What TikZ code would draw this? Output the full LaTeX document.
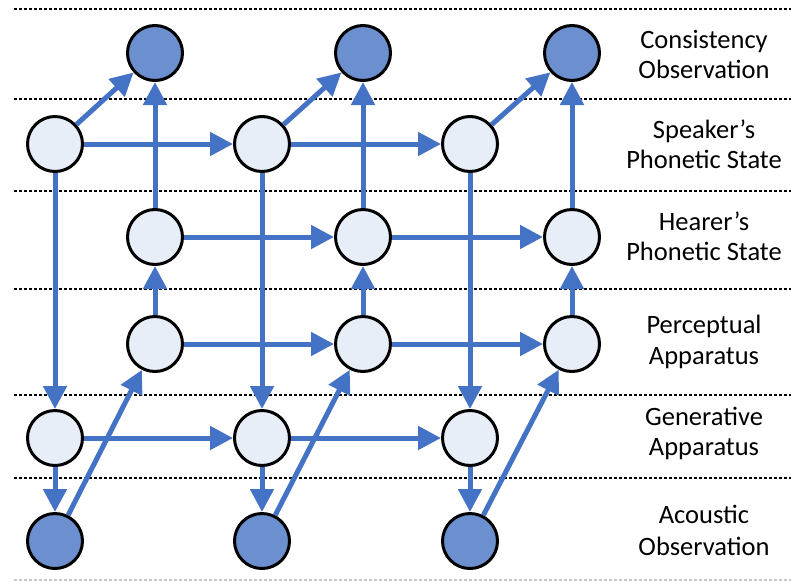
\documentclass[tikz,border=0pt]{standalone}
\usepackage{fontspec}
\setmainfont{Carlito}
\usetikzlibrary{arrows.meta}
\definecolor{flow}{HTML}{4472C4}
\definecolor{latent}{HTML}{E8EEF8}
\definecolor{observed}{HTML}{6B8FCF}
\definecolor{faintrule}{HTML}{C8C8C8}
\begin{document}
\begin{tikzpicture}[x=1pt,y=-1pt,
  state/.style={circle, draw=black, line width=3pt, minimum size=55pt, inner sep=0pt, fill=latent},
  obs/.style={state, fill=observed},
  flowarrow/.style={draw=flow, line width=5pt, -{Triangle[length=23pt,width=23pt]}},
  divider/.style={line width=1.5pt, dash pattern=on 3pt off 2pt},
  rowtext/.style={font=\fontsize{26.5}{31}\selectfont, anchor=base, inner sep=0pt}
]
\useasboundingbox (0,0) rectangle (791,581);

% row separators
\foreach \y in {9,99,191,289,395,478}
  \draw[divider] (14,\y) -- (791,\y);
\draw[divider, draw=faintrule] (14,580) -- (791,580);

% nodes: three time steps
\foreach \i/\xs/\xh in {1/55/155, 2/262/363, 3/470/572} {
  \node[obs]   (C\i) at (\xh,53)  {};
  \node[state] (S\i) at (\xs,144) {};
  \node[state] (H\i) at (\xh,237) {};
  \node[state] (P\i) at (\xh,344) {};
  \node[state] (G\i) at (\xs,438) {};
  \node[obs]   (A\i) at (\xs,541) {};
}

% dependencies within a step
\foreach \i in {1,2,3} {
  \draw[flowarrow] (S\i) -- (C\i);
  \draw[flowarrow] (H\i) -- (C\i);
  \draw[flowarrow] (S\i) -- (G\i);
  \draw[flowarrow] (G\i) -- (A\i);
  \draw[flowarrow] (A\i) -- (P\i);
  \draw[flowarrow] (P\i) -- (H\i);
}

% dependencies across steps
\foreach \i/\j in {1/2, 2/3} {
  \draw[flowarrow] (S\i) -- (S\j);
  \draw[flowarrow] (H\i) -- (H\j);
  \draw[flowarrow] (P\i) -- (P\j);
  \draw[flowarrow] (G\i) -- (G\j);
}

% row labels
\node[rowtext] (tC1) at (704,48)  {Consistency};
\node[rowtext] (tC2) at (704,78)  {Observation};
\node[rowtext] (tS1) at (704,138) {Speaker’s};
\node[rowtext] (tS2) at (704,168) {Phonetic State};
\node[rowtext] (tH1) at (704,230) {Hearer’s};
\node[rowtext] (tH2) at (704,260) {Phonetic State};
\node[rowtext] (tP1) at (704,333) {Perceptual};
\node[rowtext] (tP2) at (704,364) {Apparatus};
\node[rowtext] (tG1) at (704,425) {Generative};
\node[rowtext] (tG2) at (704,455) {Apparatus};
\node[rowtext] (tA1) at (704,523) {Acoustic};
\node[rowtext] (tA2) at (704,555) {Observation};
\end{tikzpicture}
\end{document}
